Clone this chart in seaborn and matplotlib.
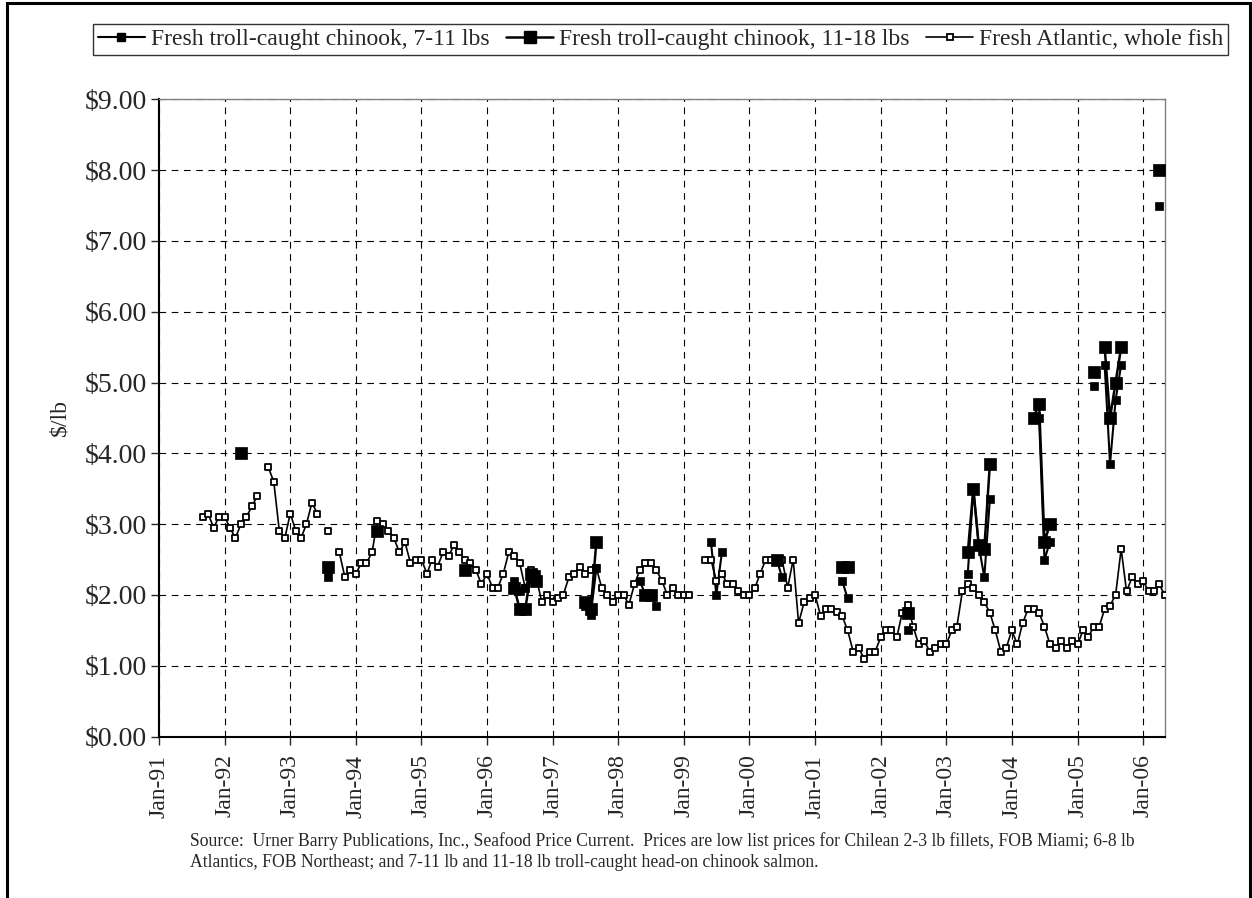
import pandas as pd
import numpy as np
import matplotlib
matplotlib.use("Agg")
import matplotlib.pyplot as plt
import matplotlib.dates as mdates
from matplotlib.ticker import FuncFormatter
from matplotlib.patches import Rectangle
from matplotlib.lines import Line2D
import seaborn as sns

# Fresh Atlantic, whole fish: monthly from Sep-91 to May-06 (NaN = no quote)
atlantic_start = "1991-09"
atlantic_prices = [
    3.10, 3.15, 2.95, 3.10,
    3.10, 2.95, 2.80, 3.00, 3.10, 3.25, 3.40, np.nan, 3.80, 3.60, 2.90, 2.80,
    3.15, 2.90, 2.80, 3.00, 3.30, 3.15, np.nan, 2.90, np.nan, 2.60, 2.25, 2.35,
    2.30, 2.45, 2.45, 2.60, 3.05, 3.00, 2.90, 2.80, 2.60, 2.75, 2.45, 2.50,
    2.50, 2.30, 2.50, 2.40, 2.60, 2.55, 2.70, 2.60, 2.50, 2.45, 2.35, 2.15,
    2.30, 2.10, 2.10, 2.30, 2.60, 2.55, 2.45, 2.10, 2.35, 2.25, 1.90, 2.00,
    1.90, 1.95, 2.00, 2.25, 2.30, 2.40, 2.30, 2.35, 2.38, 2.10, 2.00, 1.90,
    2.00, 2.00, 1.86, 2.15, 2.35, 2.45, 2.45, 2.35, 2.20, 2.00, 2.10, 2.00,
    2.00, 2.00, np.nan, np.nan, 2.50, 2.50, 2.20, 2.30, 2.15, 2.15, 2.05, 2.00,
    2.00, 2.10, 2.30, 2.50, 2.50, 2.50, 2.50, 2.10, 2.50, 1.60, 1.90, 1.95,
    2.00, 1.70, 1.80, 1.80, 1.76, 1.70, 1.50, 1.20, 1.25, 1.10, 1.20, 1.20,
    1.40, 1.50, 1.50, 1.40, 1.75, 1.86, 1.55, 1.30, 1.35, 1.20, 1.25, 1.30,
    1.30, 1.50, 1.55, 2.05, 2.15, 2.10, 2.00, 1.90, 1.75, 1.50, 1.20, 1.25,
    1.50, 1.30, 1.60, 1.80, 1.80, 1.75, 1.55, 1.30, 1.25, 1.35, 1.25, 1.35,
    1.30, 1.50, 1.40, 1.55, 1.55, 1.80, 1.85, 2.00, 2.65, 2.05, 2.25, 2.15,
    2.20, 2.05, 2.05, 2.15, 2.00,
]

# Fresh troll-caught chinook, 7-11 lbs
small_months = ["1993-08", "1994-05", "1995-09", "1996-06", "1996-07", "1996-08",
                "1996-09", "1996-10", "1997-07", "1997-08", "1997-09", "1998-05",
                "1998-06", "1998-07", "1998-08", "1999-06", "1999-07", "1999-08",
                "2000-06", "2000-07", "2001-06", "2001-07", "2002-06", "2003-05",
                "2003-06", "2003-07", "2003-08", "2003-09", "2004-05", "2004-06",
                "2004-07", "2004-08", "2005-04", "2005-06", "2005-07", "2005-08",
                "2005-09", "2006-04"]
small_prices = [2.25, 2.90, 2.35, 2.20, 2.05, 2.10,
                2.25, 2.30, 1.85, 1.72, 2.38, 2.20,
                2.00, 2.00, 1.85, 2.75, 2.00, 2.60,
                2.50, 2.25, 2.20, 1.95, 1.50, 2.30,
                3.50, 2.70, 2.25, 3.35, 4.50, 4.50,
                2.50, 2.75, 4.95, 5.25, 3.85, 4.75,
                5.25, 7.50]

# Fresh troll-caught chinook, 11-18 lbs
big_months = ["1992-04", "1993-08", "1994-05", "1995-09", "1996-06", "1996-07",
              "1996-08", "1996-09", "1996-10", "1997-07", "1997-08", "1997-09",
              "1998-06", "1998-07", "2000-06", "2001-06", "2001-07", "2002-06",
              "2003-05", "2003-06", "2003-07", "2003-08", "2003-09", "2004-05",
              "2004-06", "2004-07", "2004-08", "2005-04", "2005-06", "2005-07",
              "2005-08", "2005-09", "2006-04"]
big_prices = [4.00, 2.40, 2.90, 2.35, 2.10, 1.80,
              1.80, 2.30, 2.20, 1.90, 1.80, 2.75,
              2.00, 2.00, 2.50, 2.40, 2.40, 1.75,
              2.60, 3.50, 2.70, 2.65, 3.85, 4.50,
              4.70, 2.75, 3.00, 5.15, 5.50, 4.50,
              5.00, 5.50, 8.00]

labels = ["Fresh troll-caught chinook, 7-11 lbs",
          "Fresh troll-caught chinook, 11-18 lbs",
          "Fresh Atlantic, whole fish"]

source_text = ("Source:  Urner Barry Publications, Inc., Seafood Price Current.  Prices are low list prices "
               "for Chilean 2-3 lb fillets, FOB Miami; 6-8 lb\n"
               "Atlantics, FOB Northeast; and 7-11 lb and 11-18 lb troll-caught head-on chinook salmon.")


def monthly_frame(months, prices):
    s = pd.Series(prices, index=pd.to_datetime(months))
    full = pd.date_range(s.index.min(), s.index.max(), freq="MS")
    s = s.reindex(full)
    df = pd.DataFrame({"date": s.index, "price": s.values})
    df["seg"] = df["price"].isna().cumsum()
    return df.dropna()


atl_dates = pd.date_range(atlantic_start, periods=len(atlantic_prices), freq="MS")
atl = monthly_frame(atl_dates, atlantic_prices)
small = monthly_frame(small_months, small_prices)
big = monthly_frame(big_months, big_prices)

sns.set_style("white")
plt.rcParams["font.family"] = ["Liberation Serif", "DejaVu Serif"]

fig = plt.figure(figsize=(12.52, 8.98), dpi=100)
ax = fig.add_axes([0.127, 0.1798, 0.8035, 0.7096])

# lines (one unit per unbroken run of months)
sns.lineplot(data=atl, x="date", y="price", units="seg", estimator=None,
             color="black", lw=1.2, ax=ax, zorder=2, legend=False)
sns.lineplot(data=big, x="date", y="price", units="seg", estimator=None,
             color="black", lw=1.8, ax=ax, zorder=3, legend=False)
sns.lineplot(data=small, x="date", y="price", units="seg", estimator=None,
             color="black", lw=1.5, ax=ax, zorder=3, legend=False)

# markers
sns.scatterplot(data=atl, x="date", y="price", marker="s", s=18, color="white",
                edgecolor="black", linewidth=1.3, ax=ax, zorder=4, legend=False)
sns.scatterplot(data=big, x="date", y="price", marker="s", s=80, color="black",
                edgecolor="black", linewidth=0.5, ax=ax, zorder=5, legend=False)
sns.scatterplot(data=small, x="date", y="price", marker="s", s=30, color="black",
                edgecolor="black", linewidth=0.5, ax=ax, zorder=6, legend=False)

ax.set_xlim(pd.Timestamp("1991-01-01"), pd.Timestamp("2006-05-03"))
ax.set_ylim(0, 9)
ax.set_yticks(np.arange(0, 10, 1))
ax.yaxis.set_major_formatter(FuncFormatter(lambda v, p: "$%.2f" % v))
ax.xaxis.set_major_locator(mdates.YearLocator())
ax.xaxis.set_major_formatter(mdates.DateFormatter("%b-%y"))
ax.tick_params(axis="x", labelrotation=90, labelsize=17, direction="out",
               length=6, width=1, bottom=True, pad=7)
ax.tick_params(axis="y", labelsize=20, direction="out", length=6, width=1,
               left=True, pad=3)
ax.set_xlabel("")
ax.set_ylabel("$/lb", fontsize=17)
ax.yaxis.set_label_coords(-0.088, 0.5)

ax.grid(True, color="black", linestyle=(0, (6, 5)), lw=0.8)
for side in ["left", "bottom"]:
    ax.spines[side].set_color("black")
    ax.spines[side].set_linewidth(1.5)
for side in ["top", "right"]:
    ax.spines[side].set_color("#808080")
    ax.spines[side].set_linewidth(1.0)

handles = [
    Line2D([], [], color="black", lw=1.5, marker="s", ms=5.5, mfc="black", mec="black"),
    Line2D([], [], color="black", lw=1.8, marker="s", ms=9, mfc="black", mec="black"),
    Line2D([], [], color="black", lw=1.2, marker="s", ms=4.5, mfc="white", mec="black", mew=1.3),
]
leg = fig.legend(handles, labels, loc="upper left", bbox_to_anchor=(0.0743, 0.9733),
                 ncol=3, fontsize=17, frameon=True, fancybox=False, edgecolor="black",
                 handlelength=2.0, handletextpad=0.25, columnspacing=0.7,
                 borderpad=0.2, borderaxespad=0)
leg.get_frame().set_linewidth(1.0)

fig.text(0.152, 1 - 832 / 898, source_text, fontsize=12.7, ha="left", va="top", linespacing=1.3)

# outer border of the exhibit
fig.patches.append(Rectangle((0.0056, -0.01), 0.993, 1.0067, transform=fig.transFigure,
                             fill=False, edgecolor="black", lw=2.2))

fig.savefig("out.png", dpi=100)
